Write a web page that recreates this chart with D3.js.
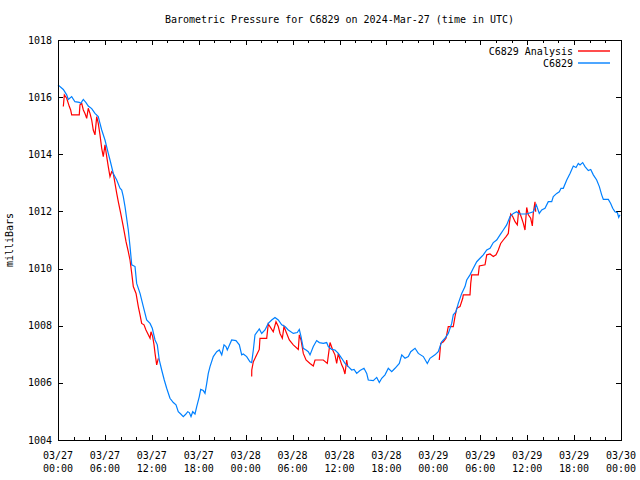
<!DOCTYPE html>
<html>
<head>
<meta charset="utf-8">
<script src="https://cdn.jsdelivr.net/npm/d3@7"></script>
<style>
  html, body { margin: 0; padding: 0; background: #fff; }
  svg { display: block; }
  text { font-family: "DejaVu Sans Mono", "Liberation Mono", monospace; font-size: 10px; fill: #000; }
</style>
</head>
<body>
<svg id="chart" width="640" height="480"></svg>
<script>
// ---- Data (hours since 2024-03-27 00:00 UTC, pressure in mb) ----
const titleText = "Barometric Pressure for C6829 on 2024-Mar-27 (time in UTC)";
const yLabelText = "milliBars";
const seriesNames = ["C6829 Analysis", "C6829"];
const yTicks = [1004, 1006, 1008, 1010, 1012, 1014, 1016, 1018];
const xTickHours = [0, 6, 12, 18, 24, 30, 36, 42, 48, 54, 60, 66, 72];

const obsHours = [0,0.68,1.11,1.32,1.75,2.17,2.72,2.90,3.24,3.58,3.87,4.31,4.73,5.15,5.37,5.59,6.01,6.43,6.65,7.07,7.51,7.93,8.15,8.35,8.57,8.99,9.21,9.43,9.85,10.06,10.49,10.91,11.34,11.77,12.06,12.41,12.70,12.95,13.26,13.59,13.90,14.32,14.75,15.09,15.38,15.73,16.02,16.33,16.59,16.79,17.01,17.23,17.52,17.74,18.07,18.25,18.58,18.80,19.02,19.22,19.44,19.86,20.30,20.63,20.94,21.23,21.48,21.65,22.21,22.76,23.19,23.49,23.70,24.13,24.55,24.77,24.98,25.19,25.49,25.74,26.05,26.47,26.89,27.33,27.75,28.17,28.61,29.03,29.45,30.09,30.60,30.86,31.08,31.37,31.72,32.01,32.23,32.65,33.08,33.42,33.93,34.36,34.57,35.00,35.42,35.85,36.28,36.70,37.13,37.56,37.86,38.20,38.62,39.13,39.48,39.68,40.32,40.76,41.09,41.40,41.82,42.24,42.68,43.10,43.65,43.96,44.38,44.80,45.11,45.66,46.08,46.72,47.23,47.57,48.21,48.63,48.85,49.07,49.49,49.91,50.35,50.55,50.90,51.19,51.63,52.05,52.27,52.69,53.11,53.55,53.97,54.39,54.83,55.25,55.67,56.10,56.53,56.95,57.38,57.81,58.23,58.66,59.00,59.94,60.78,61.17,61.55,61.86,62.28,62.70,63.14,63.34,63.78,64.11,64.33,64.62,65.06,65.48,65.90,66.25,66.54,66.76,67.10,67.40,67.82,68.13,68.46,68.89,69.23,69.53,69.74,70.38,70.68,70.94,71.23,71.53,71.71,71.87];
const obsValues = [1016.43,1016.27,1016.08,1015.92,1016.02,1015.84,1015.82,1015.78,1015.92,1015.81,1015.69,1015.60,1015.43,1015.32,1015.08,1014.85,1014.50,1014.03,1013.80,1013.33,1013.10,1012.81,1012.75,1012.52,1012.17,1011.35,1010.77,1010.13,1010.07,1009.48,1009.13,1008.67,1008.20,1008.08,1007.91,1007.50,1007.33,1006.80,1006.45,1006.10,1005.81,1005.46,1005.31,1005.23,1004.99,1004.90,1004.82,1004.90,1004.99,1004.96,1004.82,1004.99,1004.91,1005.17,1005.52,1005.77,1005.73,1005.63,1005.98,1006.33,1006.57,1006.92,1007.09,1007.15,1006.98,1007.33,1007.27,1007.15,1007.50,1007.48,1007.33,1006.98,1007.01,1006.92,1006.74,1006.71,1007.15,1007.68,1007.79,1007.89,1007.73,1007.85,1008.08,1008.20,1008.29,1008.20,1008.03,1007.97,1007.85,1007.73,1007.76,1007.87,1007.62,1007.21,1007.15,1007.09,1006.98,1007.27,1007.48,1007.41,1007.38,1007.41,1007.27,1007.17,1007.15,1007.03,1006.86,1006.68,1006.57,1006.45,1006.47,1006.33,1006.43,1006.51,1006.33,1006.10,1006.08,1006.19,1006.01,1006.16,1006.28,1006.51,1006.39,1006.51,1006.68,1006.98,1006.86,1006.92,1007.09,1007.21,1007.03,1006.92,1006.68,1006.86,1006.98,1007.09,1007.27,1007.44,1007.56,1007.73,1008.08,1008.38,1008.49,1008.78,1009.13,1009.37,1009.60,1009.78,1010.01,1010.24,1010.36,1010.48,1010.65,1010.71,1010.91,1011.00,1011.18,1011.35,1011.53,1011.82,1011.93,1011.99,1011.91,1011.91,1011.99,1012.23,1011.93,1012.05,1012.11,1012.34,1012.34,1012.52,1012.63,1012.69,1012.81,1012.81,1013.10,1013.33,1013.59,1013.54,1013.68,1013.63,1013.71,1013.57,1013.43,1013.47,1013.28,1013.10,1012.87,1012.58,1012.42,1012.42,1012.28,1012.11,1011.99,1011.96,1011.79,1011.88];

// Analysis series; null marks a gap between segments
const anaHours = [0.68,0.81,1.11,1.45,1.62,1.75,2.72,2.81,3.03,3.24,3.45,3.67,3.87,4.09,4.31,4.51,4.73,4.95,5.15,5.37,5.59,5.79,6.01,6.23,6.43,6.65,6.87,7.07,7.29,7.51,7.71,8.02,8.35,8.70,8.99,9.21,9.43,9.63,9.98,10.27,10.49,10.70,11.00,11.25,11.55,11.77,11.89,12.11,12.28,12.41,12.62,12.83,
  null,
  24.77,24.78,24.98,25.41,25.74,25.83,26.69,26.89,27.11,27.53,27.88,28.17,28.39,28.69,28.90,29.25,29.58,30.09,30.73,30.86,31.08,31.37,31.72,32.23,32.65,32.87,33.93,34.44,34.79,35.13,35.42,35.64,35.85,36.06,36.28,36.49,36.70,36.92,37.05,
  null,
  48.76,48.94,49.28,49.62,49.91,50.55,50.77,50.99,51.41,51.76,51.83,52.69,52.78,52.91,53.75,53.88,54.61,54.83,55.25,55.67,56.02,56.31,56.61,56.95,57.30,57.59,57.72,57.90,58.15,58.45,58.74,58.92,59.30,59.51,59.72,59.94,60.15,60.45,60.66,60.78,61.00,61.09];
const anaValues = [1015.67,1016.08,1015.96,1015.67,1015.55,1015.38,1015.38,1015.73,1015.78,1015.55,1015.43,1015.26,1015.61,1015.43,1015.20,1014.85,1014.68,1015.32,1015.08,1014.68,1014.21,1013.92,1014.33,1013.92,1013.57,1013.22,1013.39,1013.33,1012.98,1012.63,1012.34,1011.93,1011.47,1010.94,1010.59,1010.30,1009.83,1009.37,1009.13,1008.67,1008.38,1008.08,1008.03,1007.85,1007.68,1007.56,1007.79,1007.62,1007.33,1007.03,1006.63,1006.86,
  null,
  1006.22,1006.45,1006.74,1006.98,1007.17,1007.56,1007.56,1008.06,1007.97,1007.79,1008.14,1007.97,1007.73,1007.56,1007.97,1007.73,1007.50,1007.33,1007.17,1007.68,1007.50,1007.03,1006.80,1006.68,1006.59,1006.80,1006.80,1006.68,1007.41,1007.15,1006.98,1006.68,1007.03,1006.82,1006.63,1006.51,1006.31,1006.80,1006.57,
  null,
  1006.80,1007.38,1007.44,1007.56,1007.97,1007.97,1008.32,1008.61,1008.67,1008.96,1009.08,1009.08,1009.48,1009.78,1009.78,1010.09,1010.13,1010.48,1010.51,1010.42,1010.48,1010.65,1010.88,1011.00,1011.12,1011.23,1011.58,1011.91,1011.82,1011.64,1011.53,1012.05,1011.76,1011.58,1011.35,1012.14,1011.88,1011.76,1011.49,1011.93,1012.34,1011.99];

// ---- Chart ----
const baseTime = Date.UTC(2024, 2, 27, 0, 0, 0);
const toDate = h => new Date(baseTime + h * 3600e3);

const margin = { left: 58, right: 19, top: 40, bottom: 40 };
const W = 640, H = 480;
const svg = d3.select("#chart");

const x = d3.scaleUtc()
  .domain([toDate(0), toDate(72)])
  .range([margin.left, W - margin.right]);
const y = d3.scaleLinear()
  .domain([1004, 1018])
  .range([H - margin.bottom, margin.top]);

const x0 = x.range()[0], x1 = x.range()[1];
const y0 = y.range()[0], y1 = y.range()[1];

// Title
svg.append("text")
  .attr("x", (x0 + x1) / 2).attr("y", 23)
  .attr("text-anchor", "middle")
  .text(titleText);

// Y label
svg.append("text")
  .attr("transform", `translate(13,${(y0 + y1) / 2}) rotate(-90)`)
  .attr("text-anchor", "middle")
  .text(yLabelText);

const tickG = svg.append("g").attr("stroke", "#000").attr("stroke-width", 1).attr("shape-rendering", "crispEdges");
const majorLen = 5, minorLen = 3;

// Y ticks + labels (left inward, right mirror inward)
yTicks.forEach(v => {
  const py = Math.round(y(v)) + 0.5;
  tickG.append("line").attr("x1", x0).attr("x2", x0 + majorLen).attr("y1", py).attr("y2", py);
  tickG.append("line").attr("x1", x1 - majorLen).attr("x2", x1).attr("y1", py).attr("y2", py);
  svg.append("text")
    .attr("x", x0 - 6).attr("y", y(v)).attr("dy", "0.35em")
    .attr("text-anchor", "end")
    .text(d3.format("d")(v));
});

// X ticks: minor every 2h, major every 6h
const minorHours = d3.range(0, 73, 2);
minorHours.forEach(h => {
  const px = Math.round(x(toDate(h))) + 0.5;
  const len = (h % 6 === 0) ? majorLen : minorLen;
  tickG.append("line").attr("x1", px).attr("x2", px).attr("y1", y0).attr("y2", y0 - len);
  tickG.append("line").attr("x1", px).attr("x2", px).attr("y1", y1).attr("y2", y1 + len);
});

const fmtDate = d3.utcFormat("%m/%d");
const fmtTime = d3.utcFormat("%H:%M");
xTickHours.forEach(h => {
  const d = toDate(h);
  const t = svg.append("text").attr("text-anchor", "middle");
  t.append("tspan").attr("x", x(d)).attr("y", y0 + 19).text(fmtDate(d));
  t.append("tspan").attr("x", x(d)).attr("y", y0 + 32).text(fmtTime(d));
});

// Lines
const line = d3.line()
  .defined(d => d[0] !== null && d[1] !== null)
  .x(d => x(toDate(d[0])))
  .y(d => y(d[1]));

const anaData = anaHours.map((h, i) => [h, anaValues[i]]);
const obsData = obsHours.map((h, i) => [h, obsValues[i]]);

const colors = ["#ff0000", "#0080ff"];

svg.append("path").datum(anaData)
  .attr("fill", "none").attr("stroke", colors[0]).attr("stroke-width", 1.2)
  .attr("d", line);
svg.append("path").datum(obsData)
  .attr("fill", "none").attr("stroke", colors[1]).attr("stroke-width", 1.2)
  .attr("d", line);

// Border
svg.append("rect")
  .attr("x", x0 + 0.5).attr("y", y1 + 0.5)
  .attr("width", x1 - x0).attr("height", y0 - y1)
  .attr("fill", "none").attr("stroke", "#000").attr("shape-rendering", "crispEdges");

// Legend
seriesNames.forEach((name, i) => {
  const ly = 51 + i * 12;
  svg.append("text")
    .attr("x", 573).attr("y", ly).attr("dy", "0.35em")
    .attr("text-anchor", "end")
    .text(name);
  svg.append("path")
    .attr("d", `M578,${ly}H610`)
    .attr("fill", "none")
    .attr("stroke", colors[i]).attr("stroke-width", 1.4);
});
</script>
</body>
</html>
